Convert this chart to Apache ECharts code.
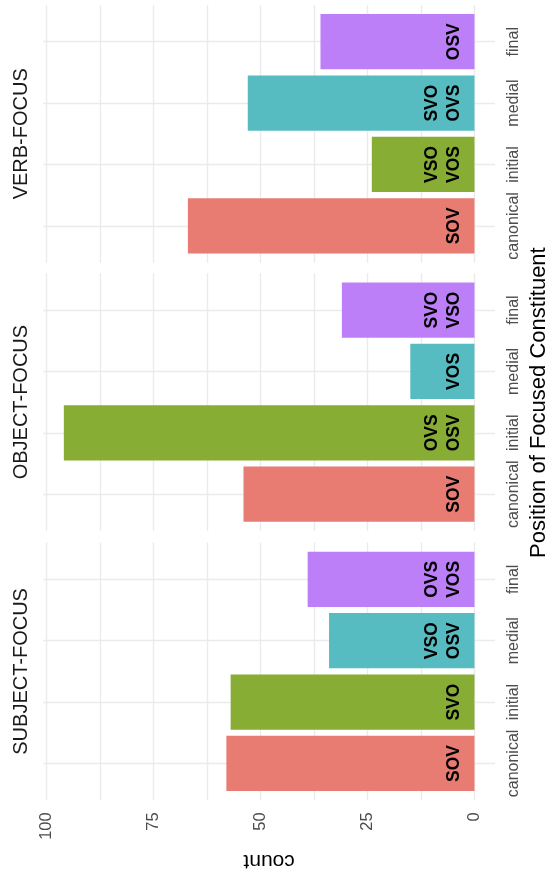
<!DOCTYPE html>
<html><head><meta charset="utf-8">
<script src="https://cdn.jsdelivr.net/npm/echarts@6/dist/echarts.min.js"></script>
<style>html,body{margin:0;padding:0;background:#fff}#c{width:551px;height:876px}</style>
</head><body><div id="c"></div>
<script>
// ---- data ----
const positions = ['canonical', 'initial', 'medial', 'final'];
const facetNames = ['VERB-FOCUS', 'OBJECT-FOCUS', 'SUBJECT-FOCUS'];
const verbCounts = [67, 24, 53, 36];
const objectCounts = [54, 96, 15, 31];
const subjectCounts = [58, 57, 34, 39];
const verbOrders = ['SOV', 'VSO\nVOS', 'SVO\nOVS', 'OSV'];
const objectOrders = ['SOV', 'OVS\nOSV', 'VOS', 'SVO\nVSO'];
const subjectOrders = ['SOV', 'SVO', 'VSO\nOSV', 'OVS\nVOS'];
const countTicks = [0, 25, 50, 75, 100];
const countMinorTicks = [12.5, 37.5, 62.5, 87.5];
const xTitle = 'Position of Focused Constituent';
const yTitle = 'count';

// ---- styles / layout ----
const positionColors = ['#E87B72', '#87AD34', '#57BCC1', '#BD7FF8'];
const FONT = '"Liberation Sans", Arial, Helvetica, sans-serif';
const panelLeft = 43.3, panelW = 451.7;
const panelTops = [4.9, 273.2, 542.5];
const panelH = 257.8;
const unit = panelH / 4.2;
const countMin = -4.8, countMax = 100.8;
const posMin = 0.4, posMax = 4.6;
const gridColor = '#EBEBEB';

const facets = [
  { name: facetNames[0], counts: verbCounts, orders: verbOrders },
  { name: facetNames[1], counts: objectCounts, orders: objectOrders },
  { name: facetNames[2], counts: subjectCounts, orders: subjectOrders }
];

const grid = [], xAxis = [], yAxis = [], series = [], graphic = [];
facets.forEach((f, i) => {
  const top = panelTops[i];
  const last = i === facets.length - 1;
  const gBg = grid.length;
  grid.push({ left: panelLeft, top: top, width: panelW, height: panelH, containLabel: false, outerBoundsMode: 'none' });
  const gBar = grid.length;
  grid.push({ left: panelLeft, top: top + 0.1 * unit, width: panelW, height: 4 * unit, containLabel: false, outerBoundsMode: 'none' });

  xAxis.push({
    gridIndex: gBg, type: 'value', inverse: true, min: countMin, max: countMax,
    axisLine: { show: false }, axisTick: { show: false, customValues: countTicks },
    axisLabel: { show: last, customValues: countTicks, rotate: 90, margin: 12, color: '#4D4D4D', fontSize: 16.5, fontFamily: FONT },
    splitLine: { show: true, lineStyle: { color: gridColor, width: 1.4 } }
  });
  xAxis.push({
    gridIndex: gBg, type: 'value', inverse: true, min: countMin, max: countMax,
    axisLine: { show: false }, axisTick: { show: false, customValues: countMinorTicks },
    axisLabel: { show: false },
    splitLine: { show: true, lineStyle: { color: gridColor, width: 1.4 } }
  });
  yAxis.push({
    gridIndex: gBg, type: 'value', min: posMin, max: posMax,
    axisLine: { show: false }, axisTick: { show: false, customValues: positions.map((p, k) => k + 1) },
    axisLabel: { show: false },
    splitLine: { show: true, lineStyle: { color: gridColor, width: 1.4 } }
  });
  const xBar = xAxis.length;
  xAxis.push({ gridIndex: gBar, type: 'value', inverse: true, min: countMin, max: countMax, show: false, splitLine: { show: false } });
  const yBar = yAxis.length;
  yAxis.push({
    gridIndex: gBar, type: 'category', data: positions, position: 'right',
    axisLine: { show: false }, axisTick: { show: false }, splitLine: { show: false },
    axisLabel: { interval: 0, rotate: 90, margin: 11, color: '#4D4D4D', fontSize: 16, fontFamily: FONT }
  });
  series.push({
    type: 'bar', xAxisIndex: xBar, yAxisIndex: yBar, barWidth: '90%', silent: true,
    data: f.counts.map((v, k) => ({ value: v, itemStyle: { color: positionColors[k] }, label: { formatter: f.orders[k] } })),
    label: {
      show: true, position: 'insideRight', rotate: 90, align: 'center', verticalAlign: 'bottom', distance: 10,
      color: '#000', fontWeight: 'bold', fontSize: 17.5, lineHeight: 21.5, fontFamily: FONT
    }
  });
  graphic.push({
    type: 'text', x: 21.5, y: top + panelH / 2, rotation: Math.PI / 2,
    style: { text: f.name, fill: '#1A1A1A', fontSize: 20, fontFamily: FONT, align: 'center', verticalAlign: 'middle' }
  });
});

graphic.push({
  type: 'text', x: 539, y: (panelTops[0] + panelTops[2] + panelH) / 2, rotation: Math.PI / 2,
  style: { text: xTitle, fill: '#000', fontSize: 22, fontFamily: FONT, align: 'center', verticalAlign: 'middle' }
});
graphic.push({
  type: 'text', x: panelLeft + panelW / 2, y: 861, rotation: Math.PI,
  style: { text: yTitle, fill: '#000', fontSize: 21, fontFamily: FONT, align: 'center', verticalAlign: 'middle' }
});

const chart = echarts.init(document.getElementById('c'), null, { renderer: 'canvas' });
chart.setOption({
  animation: false,
  backgroundColor: '#fff',
  grid, xAxis, yAxis, series, graphic
});
</script></body></html>
